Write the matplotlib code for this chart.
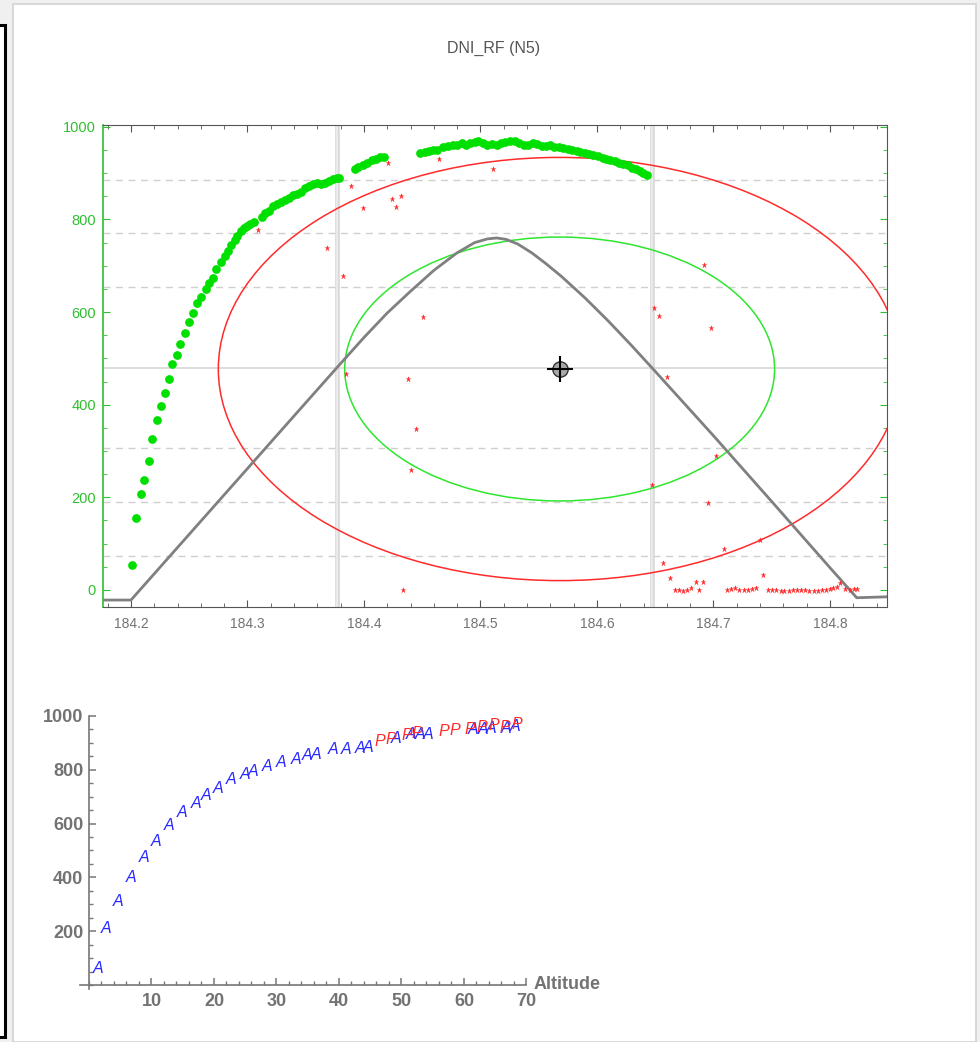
import numpy as np
import matplotlib
matplotlib.use('agg')
import matplotlib.pyplot as plt
from matplotlib.patches import Ellipse, Rectangle
from matplotlib.ticker import MultipleLocator

plt.rcParams['font.family'] = ['Liberation Sans', 'DejaVu Sans']

# ---------------- data ----------------
title = 'DNI_RF (N5)'

# measured DNI (green dots), day-of-year vs W/m2
meas_x = [184.2011, 184.2045, 184.2083, 184.2112, 184.2152, 184.2178, 184.2221, 184.2260,
          184.2289, 184.2326, 184.2352, 184.2395, 184.2418, 184.2464, 184.2498, 184.2532,
          184.2569, 184.2598, 184.2641, 184.2667, 184.2706, 184.2732, 184.2773, 184.2807,
          184.2830, 184.2861, 184.2890, 184.2907, 184.2947, 184.2973, 184.2993, 184.3024,
          184.3058, 184.3122, 184.3150, 184.3187, 184.3216, 184.3256, 184.3288, 184.3322,
          184.3356, 184.3393, 184.3422, 184.3457, 184.3494, 184.3525, 184.3560, 184.3594,
          184.3628, 184.3665, 184.3702, 184.3731, 184.3765, 184.3788,
          184.3923, 184.3951, 184.3989, 184.4028, 184.4066, 184.4103, 184.4137, 184.4172,
          184.4481, 184.4524, 184.4561, 184.4595, 184.4629, 184.4681, 184.4723, 184.4761,
          184.4801, 184.4838, 184.4876, 184.4910, 184.4953, 184.4981, 184.5019, 184.5058,
          184.5096, 184.5139, 184.5173, 184.5210, 184.5253, 184.5296, 184.5333, 184.5373,
          184.5410, 184.5448, 184.5482, 184.5525, 184.5562, 184.5597, 184.5633, 184.5676,
          184.5711, 184.5748, 184.5783, 184.5826, 184.5854, 184.5897, 184.5934, 184.5968,
          184.6011, 184.6049, 184.6077, 184.6112, 184.6155, 184.6192, 184.6226, 184.6269,
          184.6298, 184.6335, 184.6369, 184.6398, 184.6427]
meas_y = [53, 156, 207, 237, 278, 326, 367, 397,
          425, 455, 487, 507, 530, 555, 578, 599,
          619, 633, 650, 663, 674, 694, 709, 722,
          732, 745, 756, 765, 776, 782, 786, 790,
          795, 806, 813, 819, 828, 833, 837, 842,
          847, 853, 856, 860, 869, 872, 876, 878,
          876, 878, 883, 887, 889, 889,
          908, 914, 918, 923, 928, 931, 934, 935,
          944, 946, 948, 950, 950, 956, 958, 960,
          961, 965, 961, 965, 967, 969, 965, 961,
          963, 961, 965, 967, 969, 969, 965, 960,
          961, 965, 963, 958, 959, 961, 956, 956,
          955, 952, 950, 948, 946, 944, 941, 939,
          937, 933, 930, 928, 926, 923, 919, 917,
          912, 909, 905, 901, 896]

# flagged values (red points)
flag_x = [184.3088, 184.3685, 184.3822, 184.3845, 184.3888, 184.3994, 184.4203, 184.4243,
          184.4272, 184.4315, 184.4332, 184.4380, 184.4403, 184.4446, 184.4509, 184.4646,
          184.5110, 184.6469, 184.6492, 184.6535, 184.6564, 184.6604, 184.6627, 184.6670,
          184.6707, 184.6741, 184.6775, 184.6804, 184.6850, 184.6878, 184.6913, 184.6918,
          184.6956, 184.6979, 184.7022, 184.7090, 184.7113, 184.7149, 184.7186, 184.7223,
          184.7259, 184.7296, 184.7332, 184.7369, 184.7399, 184.7428, 184.7470, 184.7506,
          184.7540, 184.7580, 184.7610, 184.7650, 184.7680, 184.7720, 184.7750, 184.7790,
          184.7820, 184.7860, 184.7900, 184.7930, 184.7970, 184.8000, 184.8030, 184.8060,
          184.8090, 184.8130, 184.8172, 184.8206, 184.8234]
flag_y = [777, 739, 678, 466, 872, 824, 922, 844,
          827, 851, -1, 455, 258, 347, 589, 930,
          909, 227, 609, 592, 57, 459, 26, 0,
          -1, -3, 0, 3, 16, -1, 16, 702,
          188, 566, 289, 88, 0, 1, 3, 0,
          0, 0, 1, 3, 108, 33, 0, 0,
          -1, -3, -3, -3, -1, 0, 0, -1,
          -3, -3, -3, -1, 0, 2, 4, 6,
          15, 1, 0, 1, 1]

# model curve (gray)
model_x = [184.175, 184.200, 184.250, 184.300, 184.350, 184.380, 184.400, 184.420,
           184.440, 184.460, 184.480, 184.495, 184.506, 184.514, 184.522, 184.532,
           184.544, 184.556, 184.570, 184.590, 184.610, 184.630, 184.650, 184.700,
           184.750, 184.800, 184.823, 184.849]
model_y = [-22, -22, 120, 262, 404, 489, 545, 598,
           645, 690, 728, 750, 758, 760, 757, 747,
           728, 705, 676, 630, 580, 527, 472, 333,
           191, 48, -17, -15]

dni_mean = 480
dni_std = 116
sigma_lines = [1.5, 2.5, 3.5]
day_marks = [184.377, 184.647]
centre_x, centre_y = 184.568, 477
inner_w, inner_h = 0.369, 570
outer_w, outer_h = 0.586, 914

# DNI vs solar altitude (bottom chart)
alt_A = [1.5, 2.8, 4.7, 6.7, 8.8, 10.7, 12.9, 14.9, 17.1, 18.8, 20.7, 22.7, 25.0, 26.2,
         28.5, 30.8, 33.1, 34.9, 36.4, 39.0, 41.2, 43.3, 44.7, 49.2, 51.6, 53.0, 54.3,
         61.5, 63.0, 64.4, 66.7, 68.2]
dni_A = [62, 210, 311, 398, 475, 535, 593, 641, 675, 703, 730, 765, 784, 792,
         811, 827, 840, 852, 858, 877, 877, 879, 883, 917, 933, 933, 933,
         949, 951, 954, 954, 961]
alt_P = [46.6, 48.3, 50.8, 52.5, 56.7, 58.6, 61.0, 62.8, 64.8, 66.6, 68.4]
dni_P = [904, 914, 926, 935, 943, 945, 951, 957, 963, 957, 970]

# ---------------- figure ----------------
W, H = 980, 1042
fig = plt.figure(figsize=(W / 100, H / 100), dpi=100, facecolor='#f0f0f0')

# notebook panel and left cell bracket
fig.add_artist(Rectangle((13 / W, 0), (976 - 13) / W, (H - 4) / H, transform=fig.transFigure,
                         facecolor='white', edgecolor='#d2d2d2', lw=1.2, zorder=-2))
fig.add_artist(Rectangle((-0.02, 1 - 1037 / H), 0.02 + 4.5 / W, (1037 - 25) / H,
                         transform=fig.transFigure, facecolor='white', edgecolor='black',
                         lw=2.2, zorder=-1))

fig.text(494 / W, 1 - 48 / H, title, ha='center', va='center', fontsize=11.5, color='#555555')

green = '#2fbf2f'
frame = '#555555'
label_gray = '#737373'

# ---- top chart ----
ax = fig.add_axes([103 / W, 1 - 607 / H, (887 - 103) / W, (607 - 125) / H])
ax.set_xlim(184.176, 184.849)
ax.set_ylim(-37, 1004)

for k in sigma_lines:
    for s in (-1, 1):
        ax.axhline(dni_mean + s * k * dni_std, color='#cfcfcf', lw=1, dashes=(5, 4), zorder=1)
ax.axhline(dni_mean, color='#d8d8d8', lw=1.2, zorder=1)
for d in day_marks:
    ax.axvline(d, color='#dadada', lw=3.4, zorder=1)
    ax.axvline(d, color='#eeeeee', lw=1.2, zorder=1)

ax.add_patch(Ellipse((centre_x, centre_y), outer_w, outer_h, fill=False,
                     edgecolor='#ff2b2b', lw=1.1, zorder=2))
ax.add_patch(Ellipse((centre_x, centre_y), inner_w, inner_h, fill=False,
                     edgecolor='#2ee62e', lw=1.1, zorder=2))

ax.plot(model_x, model_y, color='#808080', lw=2, zorder=3, solid_joinstyle='round')
ax.plot(meas_x, meas_y, 'o', ms=6.3, color='#00e000', mec='none', zorder=4)
ax.plot(flag_x, flag_y, '*', ms=5, color='#ff2a2a', mec='none', zorder=5)

ax.plot(centre_x, centre_y, 'o', ms=11, mfc='#a8a8a8', mec='#333333', mew=1, zorder=6)
ax.plot(centre_x, centre_y, '+', ms=19, mew=1.5, color='black', zorder=7)

ax.xaxis.set_major_locator(MultipleLocator(0.1))
ax.xaxis.set_minor_locator(MultipleLocator(0.02))
ax.yaxis.set_major_locator(MultipleLocator(200))
ax.yaxis.set_minor_locator(MultipleLocator(50))
ax.set_xticks(ax.get_xticks())
ax.set_xticklabels(['%.1f' % v for v in ax.get_xticks()])
ax.set_xlim(184.176, 184.849)

ax.tick_params(which='both', direction='in', top=True, right=True)
ax.tick_params(which='major', length=5)
ax.tick_params(which='minor', length=3)
ax.tick_params(axis='x', which='both', colors=frame, labelcolor=label_gray, labelsize=10, pad=7)
ax.tick_params(axis='y', which='both', colors=green, labelsize=10.5, pad=5)
for t in ax.yaxis.get_major_ticks() + ax.yaxis.get_minor_ticks():
    t.tick2line.set_color(frame)
for side in ('top', 'right', 'bottom'):
    ax.spines[side].set_color(frame)
ax.spines['left'].set_color(green)
ax.spines['left'].set_linewidth(1.2)

# ---- bottom chart ----
bx = fig.add_axes([79.6 / W, 1 - 989 / H, (526.5 - 79.6) / W, (989 - 716) / H])
bx.set_xlim(-1.5, 70)
bx.set_ylim(-15, 1000)
bx.set_facecolor('none')
for side in ('top', 'right'):
    bx.spines[side].set_visible(False)
bx.spines['left'].set_position(('data', 0))
bx.spines['bottom'].set_position(('data', 0))
for side in ('left', 'bottom'):
    bx.spines[side].set_color('#777777')
    bx.spines[side].set_linewidth(1.2)

bx.set_xticks([10, 20, 30, 40, 50, 60, 70])
bx.set_yticks([200, 400, 600, 800, 1000])
bx.xaxis.set_minor_locator(MultipleLocator(2))
bx.yaxis.set_minor_locator(MultipleLocator(50))
bx.tick_params(which='both', direction='in', colors='#777777', labelcolor=label_gray,
               labelsize=13)
bx.tick_params(which='major', length=5, width=1.1)
bx.tick_params(which='minor', length=3, width=1)
bx.tick_params(axis='x', pad=6)
bx.tick_params(axis='y', pad=4)
for lab in bx.get_xticklabels() + bx.get_yticklabels():
    lab.set_fontweight('bold')

for a, v in zip(alt_A, dni_A):
    bx.text(a, v, 'A', ha='center', va='center', fontsize=11.5, style='italic',
            color='#2a2aff', clip_on=False)
for a, v in zip(alt_P, dni_P):
    bx.text(a, v, 'P', ha='center', va='center', fontsize=11.5, style='italic',
            color='#ff2a2a', clip_on=False)

bx.text(71.2, 0, 'Altitude', ha='left', va='center', fontsize=13, fontweight='bold',
        color=label_gray, clip_on=False)

fig.savefig('out.png', dpi=100, facecolor=fig.get_facecolor())
